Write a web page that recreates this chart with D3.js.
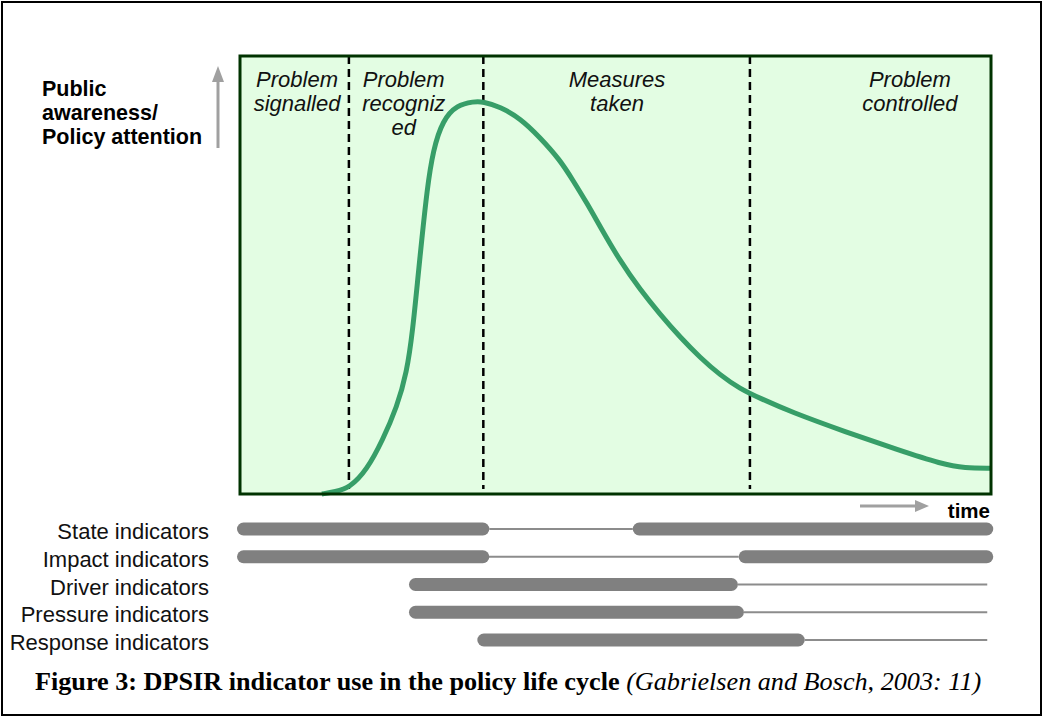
<!DOCTYPE html>
<html>
<head>
<meta charset="utf-8">
<script src="https://cdn.jsdelivr.net/npm/d3@7"></script>
<style>
  body { margin: 0; background: #fff; }
</style>
</head>
<body>
<script>
// Attention curve: time runs 0-100 across the panel, attention 0-100 bottom to top
const curveTime = [10.9, 12.65, 14.6, 16.9, 19.0, 20.9, 22.2, 23.0, 23.7, 24.2, 24.9, 25.7, 27.0, 28.9, 31.1, 32.4,
  34.6, 37.3, 39.9, 42.6, 44.3, 46.2, 47.9, 50.6, 53.3, 55.9, 58.6, 61.3, 63.9, 66.6, 69.2,
  73.4, 80.6, 87.7, 93.5, 96.5, 100];
const curveAttention = [0, 0.5, 1.4, 5.5, 12.3, 19.9, 27.6, 37.4, 49.6, 58.0, 69.4, 78.5, 85.4, 88.8, 89.6, 89.6,
  88.4, 85.8, 81.5, 76.3, 71.7, 66.4, 61.2, 53.2, 46.6, 41.1, 35.8, 31.1, 27.2, 24.0, 21.9,
  18.7, 14.2, 10.0, 6.8, 5.9, 5.9];

// Phases of the policy life cycle
const phaseBreaks = [14.5, 32.4, 67.9];
const phaseNames = [
  ['Problem', 'signalled'],
  ['Problem', 'recogniz', 'ed'],
  ['Measures', 'taken'],
  ['Problem', 'controlled']
];
const phaseLabelTime = [7.6, 21.8, 50.2, 89.2];

// Indicator use along the time axis: heavy = intensive use, light = little use
const indicatorNames = ['State indicators', 'Impact indicators', 'Driver indicators', 'Pressure indicators', 'Response indicators'];
const indicatorHeavy = [
  [[-0.4, 33.2], [52.3, 100.3]],
  [[-0.4, 33.2], [66.4, 100.3]],
  [[22.5, 66.3]],
  [[22.5, 67.1]],
  [[31.6, 75.2]]
];
const indicatorLight = [
  [[33.2, 52.3]],
  [[31.9, 66.4]],
  [[66.3, 99.5]],
  [[67.1, 99.5]],
  [[75.2, 99.5]]
];

const yLabelLines = ['Public', 'awareness/', 'Policy attention'];
const xLabel = 'time';
const captionBold = 'Figure 3: DPSIR indicator use in the policy life cycle';
const captionSource = ' (Gabrielsen and Bosch, 2003: 11)';

const width = 1043;
const height = 717;
const plot = { left: 240, right: 991, top: 56, bottom: 494 };

const svg = d3.select('body')
  .append('svg')
  .attr('width', width)
  .attr('height', height)
  .style('font-family', '"Liberation Sans", Arial, sans-serif');

// outer frame
svg.append('rect')
  .attr('x', 2).attr('y', 2)
  .attr('width', width - 4).attr('height', height - 4)
  .attr('fill', 'white')
  .attr('stroke', 'black')
  .attr('stroke-width', 2);

// scales
const x = d3.scaleLinear().domain([0, 100]).range([plot.left, plot.right]);
const y = d3.scaleLinear().domain([0, 100]).range([plot.bottom, plot.top]);
const row = d3.scalePoint().domain(indicatorNames).range([529, 640]);

// panel background
svg.append('rect')
  .attr('x', x(0)).attr('y', y(100))
  .attr('width', x(100) - x(0)).attr('height', y(0) - y(100))
  .attr('fill', '#e3fde3');

// phase dividers
svg.selectAll('line.phase')
  .data(phaseBreaks)
  .enter()
  .append('line')
  .attr('class', 'phase')
  .attr('x1', (d) => x(d)).attr('x2', (d) => x(d))
  .attr('y1', y(100)).attr('y2', y(0) - 5)
  .attr('stroke', 'black')
  .attr('stroke-width', 2.5)
  .attr('stroke-dasharray', '8,5');

// phase labels
const phaseText = svg.selectAll('text.phase-label')
  .data(phaseNames)
  .enter()
  .append('text')
  .attr('class', 'phase-label')
  .attr('text-anchor', 'middle')
  .attr('font-size', '22px')
  .attr('font-style', 'italic')
  .attr('fill', '#111');
phaseText.selectAll('tspan')
  .data((d, i) => d.map((t) => ({ t, i })))
  .enter()
  .append('tspan')
  .attr('x', (d) => x(phaseLabelTime[d.i]))
  .attr('y', (d, j) => 87 + j * 24)
  .text((d) => d.t);

// attention curve
const line = d3.line()
  .x((d, i) => x(curveTime[i]))
  .y((d) => y(d))
  .curve(d3.curveBasis);

svg.append('path')
  .datum(curveAttention)
  .attr('fill', 'none')
  .attr('stroke', '#379e68')
  .attr('stroke-width', 5)
  .attr('d', line);

// panel border
svg.append('rect')
  .attr('x', x(0)).attr('y', y(100))
  .attr('width', x(100) - x(0)).attr('height', y(0) - y(100))
  .attr('fill', 'none')
  .attr('stroke', '#003300')
  .attr('stroke-width', 3);

// y axis arrow and label
svg.append('line')
  .attr('x1', 218).attr('x2', 218)
  .attr('y1', 148).attr('y2', 78)
  .attr('stroke', '#a0a0a0')
  .attr('stroke-width', 3);
svg.append('path')
  .attr('d', 'M212,82 L218,66 L224,82 Z')
  .attr('fill', '#a0a0a0');

svg.append('text')
  .attr('font-size', '21.5px')
  .attr('font-weight', 'bold')
  .selectAll('tspan')
  .data(yLabelLines)
  .enter()
  .append('tspan')
  .attr('x', 42)
  .attr('y', (d, i) => 96 + i * 24)
  .text((d) => d);

// time arrow and label
svg.append('line')
  .attr('x1', 860).attr('x2', 918)
  .attr('y1', 506).attr('y2', 506)
  .attr('stroke', '#a0a0a0')
  .attr('stroke-width', 3);
svg.append('path')
  .attr('d', 'M915,500 L929,506 L915,512 Z')
  .attr('fill', '#a0a0a0');
svg.append('text')
  .attr('x', 990).attr('y', 518)
  .attr('text-anchor', 'end')
  .attr('font-size', '20.5px')
  .attr('font-weight', 'bold')
  .text(xLabel);

// indicator rows
const rows = svg.selectAll('g.indicator')
  .data(indicatorNames)
  .enter()
  .append('g')
  .attr('class', 'indicator')
  .attr('transform', (d) => `translate(0,${row(d)})`);

rows.append('text')
  .attr('x', 209)
  .attr('y', 10)
  .attr('text-anchor', 'end')
  .attr('font-size', '22px')
  .attr('fill', '#111')
  .text((d) => d);

rows.selectAll('line.light')
  .data((d, i) => indicatorLight[i])
  .enter()
  .append('line')
  .attr('class', 'light')
  .attr('x1', (d) => x(d[0])).attr('x2', (d) => x(d[1]))
  .attr('y1', 0).attr('y2', 0)
  .attr('stroke', '#8c8c8c')
  .attr('stroke-width', 2);

rows.selectAll('rect.heavy')
  .data((d, i) => indicatorHeavy[i])
  .enter()
  .append('rect')
  .attr('class', 'heavy')
  .attr('x', (d) => x(d[0]))
  .attr('width', (d) => x(d[1]) - x(d[0]))
  .attr('y', -6.5)
  .attr('height', 13)
  .attr('rx', 6.5)
  .attr('fill', '#808080');

// caption
const caption = svg.append('text')
  .attr('x', 35).attr('y', 690)
  .attr('font-family', '"Liberation Serif", "Times New Roman", serif')
  .attr('font-size', '26.2px');
caption.append('tspan').attr('font-weight', 'bold').text(captionBold);
caption.append('tspan').attr('font-style', 'italic').text(captionSource);
</script>
</body>
</html>
